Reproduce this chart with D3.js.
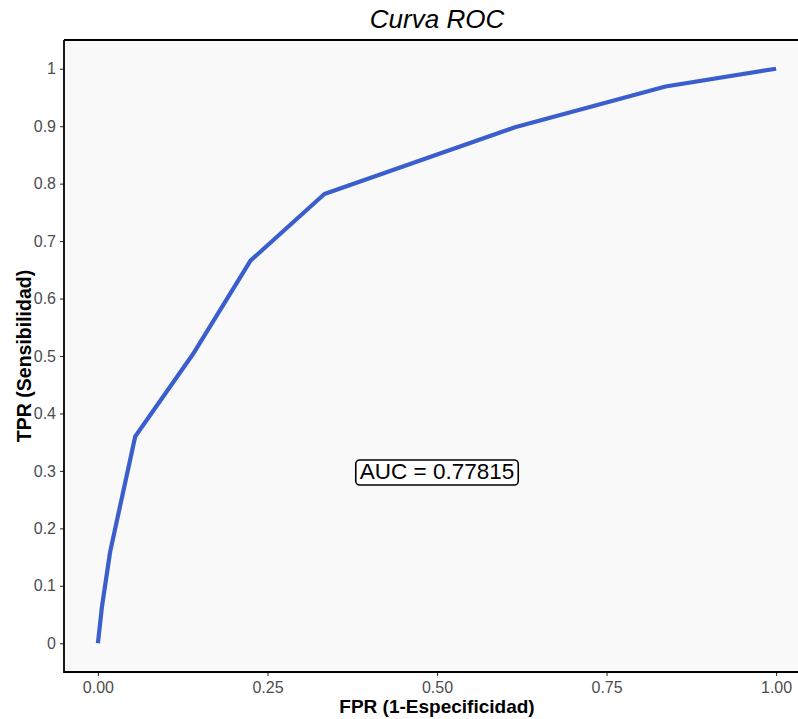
<!DOCTYPE html>
<html>
<head>
<meta charset="utf-8">
<script src="https://cdn.jsdelivr.net/npm/d3@7"></script>
<style>
	body { margin: 0; background: #fff; }
	svg { display: block; font-family: "Liberation Sans", Arial, sans-serif; }
</style>
</head>
<body>
<svg id="svg" width="798" height="719"></svg>
<script>
// puntos de la curva ROC (FPR, TPR)
var fpr = [0, 0.006, 0.018, 0.055, 0.14, 0.225, 0.334, 0.615, 0.837, 1];
var tpr = [0, 0.064, 0.159, 0.36, 0.503, 0.666, 0.782, 0.898, 0.969, 1];
var xTicks = [0, 0.25, 0.5, 0.75, 1];
var yTicks = [0, 0.1, 0.2, 0.3, 0.4, 0.5, 0.6, 0.7, 0.8, 0.9, 1];
var aucLabel = "AUC = 0.77815";
var aucPos = [0.5, 0.3];

var svg = d3.select("#svg");
var panel = {left: 64, top: 40, right: 810, bottom: 672};

// ggplot expande 5% en cada lado
var x = d3.scaleLinear().domain([-0.05, 1.05]).range([panel.left, panel.right]);
var y = d3.scaleLinear().domain([-0.05, 1.05]).range([panel.bottom, panel.top]);

svg.append("rect")
	.attr("x", panel.left).attr("y", panel.top)
	.attr("width", panel.right - panel.left).attr("height", panel.bottom - panel.top)
	.attr("fill", "#f9f9f9");

var data = fpr.map(function(d, i){ return {x: d, y: tpr[i]}; });

svg.append("path")
	.datum(data)
	.attr("fill", "none")
	.attr("stroke", "#3a5fcd")
	.attr("stroke-width", 4.2)
	.attr("stroke-linejoin", "round")
	.attr("d", d3.line().x(function(d){ return x(d.x); }).y(function(d){ return y(d.y); }));

// ejes
var xAxis = svg.append("g")
	.attr("transform", "translate(0," + panel.bottom + ")")
	.call(d3.axisBottom(x).tickValues(xTicks).tickFormat(d3.format(".2f")).tickSize(4).tickPadding(6));
var yAxis = svg.append("g")
	.attr("transform", "translate(" + panel.left + ",0)")
	.call(d3.axisLeft(y).tickValues(yTicks).tickFormat(function(d){ return d3.format("~g")(d); }).tickSize(4).tickPadding(4));

[xAxis, yAxis].forEach(function(g){
	g.select(".domain").remove();
	g.selectAll(".tick line").attr("stroke", "#333").attr("stroke-width", 1.1);
	g.selectAll(".tick text")
		.attr("fill", "#4d4d4d")
		.style("font-size", "16px")
		.style("font-family", "'Liberation Sans', Arial, sans-serif");
});

// borde del panel (sin lado derecho visible)
svg.append("path")
	.attr("d", "M" + panel.left + "," + panel.top + "H" + panel.right +
		"M" + panel.left + "," + panel.top + "V" + panel.bottom + "H" + panel.right)
	.attr("fill", "none")
	.attr("stroke", "#000")
	.attr("stroke-width", 1.8);

// etiqueta AUC
var lbl = svg.append("g");
var lt = lbl.append("text")
	.attr("x", x(aucPos[0])).attr("y", y(aucPos[1]))
	.attr("text-anchor", "middle")
	.attr("dy", "0.36em")
	.style("font-size", "22.5px")
	.attr("fill", "#000")
	.text(aucLabel);
var bb = lt.node().getBBox();
lbl.insert("rect", "text")
	.attr("x", bb.x - 4).attr("y", bb.y + 1)
	.attr("width", bb.width + 8).attr("height", bb.height)
	.attr("rx", 4).attr("ry", 4)
	.attr("fill", "#fff")
	.attr("stroke", "#000")
	.attr("stroke-width", 1.6);

// títulos
svg.append("text")
	.attr("x", (panel.left + panel.right) / 2).attr("y", 28)
	.attr("text-anchor", "middle")
	.style("font-size", "26px")
	.style("font-style", "italic")
	.text("Curva ROC");

svg.append("text")
	.attr("x", (panel.left + panel.right) / 2).attr("y", 713)
	.attr("text-anchor", "middle")
	.style("font-size", "19px")
	.style("font-weight", "bold")
	.text("FPR (1-Especificidad)");

svg.append("text")
	.attr("transform", "translate(31," + ((panel.top + panel.bottom) / 2) + ") rotate(-90)")
	.attr("text-anchor", "middle")
	.style("font-size", "19.5px")
	.style("font-weight", "bold")
	.text("TPR (Sensibilidad)");
</script>
</body>
</html>
